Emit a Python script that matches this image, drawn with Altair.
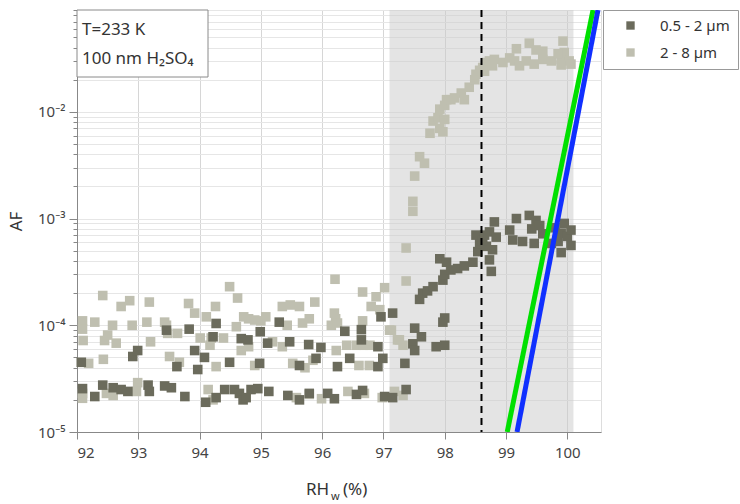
import altair as alt
import pandas as pd

# ---------------- data ----------------
series_names = ["0.5 - 2 µm", "2 - 8 µm"]

dark_rh = [92.09, 92.29, 92.42, 92.59, 92.72, 92.83, 93.16, 93.18, 93.43, 93.54, 93.76, 94.10, 94.27, 94.41,
           94.57, 94.65, 94.71, 94.76, 94.84, 94.95, 95.13, 95.44, 95.63, 95.79, 96.09, 96.20, 96.56, 96.66,
           97.02, 97.15,
           92.07, 92.91, 92.99, 93.46, 93.63, 93.83, 93.92, 93.97, 94.08, 94.22, 94.27, 94.49, 94.68, 94.79,
           94.98, 94.99, 95.11, 95.30, 95.47, 95.63, 95.78, 95.90, 95.98, 96.25, 96.37, 96.45, 96.64, 96.64,
           96.91, 96.91, 96.99, 96.96, 97.15,
           97.35, 97.37, 97.48, 97.51, 97.51, 97.62, 97.86, 98.00, 97.97, 98.00, 97.59, 97.64, 97.72, 97.81,
           97.97, 98.00, 97.92, 98.03, 98.10, 98.21, 98.32, 98.46, 98.76, 98.73, 98.54, 98.57, 98.68, 98.78,
           98.51, 98.73, 98.84, 98.81, 98.62, 98.65, 99.06, 99.11, 99.17, 99.27, 99.38, 99.42, 99.46, 99.49,
           99.55, 99.60, 99.74, 99.80, 99.85, 99.90, 99.90, 99.95, 100.00, 100.06, 100.06]
dark_af = [2.55e-5, 2.15e-5, 2.75e-5, 2.6e-5, 2.5e-5, 2.4e-5, 2.75e-5, 2.4e-5, 2.7e-5, 2.6e-5, 2.15e-5, 1.9e-5,
           2.1e-5, 2.5e-5, 2.5e-5, 2.3e-5, 2.0e-5, 2.1e-5, 2.5e-5, 2.55e-5, 2.4e-5, 2.2e-5, 2.0e-5, 2.3e-5,
           2.3e-5, 2.05e-5, 2.25e-5, 2.45e-5, 2.15e-5, 2.1e-5,
           4.5e-5, 5.1e-5, 5.8e-5, 9.0e-5, 4.1e-5, 9.2e-5, 5.8e-5, 3.85e-5, 5.0e-5, 7.8e-5, 1.04e-4, 4.5e-5,
           7.5e-5, 7.3e-5, 4.4e-5, 8.7e-5, 6.8e-5, 1.07e-4, 7.0e-5, 4.2e-5, 6.6e-5, 4.9e-5, 6.2e-5, 4.1e-5,
           8.8e-5, 4.9e-5, 9.1e-5, 7.3e-5, 6.3e-5, 4.1e-5, 4.9e-5, 1.2e-4, 1.3e-4,
           4.4e-5, 2.5e-5, 6.7e-5, 5.8e-5, 9.4e-5, 7.8e-5, 6.3e-5, 6.5e-5, 1.07e-4, 1.17e-4, 1.75e-4, 2.0e-4,
           2.1e-4, 2.3e-4, 2.65e-4, 3.0e-4, 4.2e-4, 3.9e-4, 3.3e-4, 3.4e-4, 3.6e-4, 3.9e-4, 3.2e-4, 4.1e-4,
           4.9e-4, 5.85e-4, 5.5e-4, 5.1e-4, 7.0e-4, 7.5e-4, 6.7e-4, 9.3e-4, 6.2e-4, 7.0e-4, 7.8e-4, 6.3e-4,
           1.0e-3, 6.1e-4, 1.07e-3, 8.0e-4, 5.85e-4, 9.6e-4, 8.6e-4, 7.2e-4, 5.85e-4, 8.2e-4, 6.1e-4, 7.3e-4,
           4.8e-4, 9.0e-4, 6.8e-4, 7.8e-4, 5.6e-4]

light_rh = [92.09, 92.09, 92.48, 92.59, 92.99, 92.97, 94.14, 94.22, 95.58, 95.79, 95.99, 96.42, 96.69, 96.98,
            97.18, 97.32,
            92.42, 92.72, 92.86, 93.18, 93.82, 93.92, 94.26, 94.49, 94.62, 94.11, 92.09, 92.29, 92.58, 92.90,
            93.14, 93.43, 93.46, 92.09, 92.10, 92.45, 92.64, 92.50, 93.20, 93.48, 93.64, 93.51, 93.67, 92.19,
            92.43, 94.01, 94.19, 94.39, 94.17, 94.27, 94.60, 94.72, 94.80, 94.90, 95.00, 95.08, 94.68, 94.80,
            94.90, 95.19, 95.35, 95.35, 95.48, 95.63, 95.43, 95.68, 95.79, 95.88, 95.52, 95.72, 95.85, 96.21,
            96.20, 96.22, 96.15, 96.25, 96.23, 96.40, 96.66, 96.66, 96.88, 97.02, 96.80, 96.94, 96.56, 96.67,
            96.78, 96.60, 96.77, 97.10, 97.23,
            97.13, 97.26, 97.32, 97.37, 97.37, 97.48, 97.48, 97.51, 97.59, 97.67, 97.76, 97.81, 97.89, 97.92,
            97.97, 98.00, 97.92, 98.03, 98.00, 98.10, 98.16, 98.27, 98.32, 98.40, 98.49, 98.51, 98.57, 98.62,
            98.68, 98.73, 98.81, 98.65, 98.78, 98.95, 99.06, 99.14, 99.22, 99.17, 99.38, 99.49, 99.60, 99.33,
            99.46, 99.60, 99.74, 99.93, 99.95, 99.90, 100.03, 99.90, 100.06, 99.85]
light_af = [2.3e-5, 2.07e-5, 2.3e-5, 2.2e-5, 2.9e-5, 2.4e-5, 2.5e-5, 2.0e-5, 2.1e-5, 2.25e-5, 2.05e-5, 2.4e-5,
            2.3e-5, 2.1e-5, 2.4e-5, 2.2e-5,
            1.9e-4, 1.5e-4, 1.7e-4, 1.65e-4, 1.6e-4, 1.3e-4, 1.5e-4, 2.3e-4, 1.8e-4, 1.2e-4, 1.1e-4, 1.07e-4,
            1.0e-4, 1.0e-4, 1.07e-4, 1.07e-4, 1.0e-4, 9.2e-5, 7.2e-5, 7.2e-5, 6.8e-5, 8.1e-5, 7.0e-5, 8.4e-5,
            8.4e-5, 5.1e-5, 4.5e-5, 4.4e-5, 4.8e-5, 7.6e-5, 7.6e-5, 7.6e-5, 6.5e-5, 4.1e-5, 9.7e-5, 1.2e-4,
            1.15e-4, 1.12e-4, 1.1e-4, 1.2e-4, 5.8e-5, 6.3e-5, 4.2e-5, 7.0e-5, 6.3e-5, 1.5e-4, 1.55e-4, 1.5e-4,
            1.0e-4, 1.05e-4, 1.15e-4, 1.65e-4, 4.4e-5, 4.0e-5, 4.7e-5, 2.7e-4, 1.3e-4, 1.15e-4, 1.0e-4,
            1.05e-4, 5.8e-5, 6.5e-5, 2.05e-4, 1.1e-4, 1.85e-4, 2.25e-4, 1.5e-4, 1.4e-4, 6.5e-5, 6.5e-5, 6.5e-5,
            4.2e-5, 4.2e-5, 9.0e-5, 7.3e-5,
            9.0e-5, 7.3e-5, 6.5e-5, 2.6e-4, 5.3e-4, 1.17e-3, 1.45e-3, 2.5e-3, 3.8e-3, 3.3e-3, 6.3e-3, 8.2e-3,
            8.8e-3, 7.0e-3, 6.5e-3, 8.5e-3, 1.06e-2, 1.3e-2, 1.15e-2, 1.3e-2, 1.35e-2, 1.5e-2, 1.3e-2, 1.7e-2,
            2.0e-2, 2.25e-2, 2.45e-2, 2.6e-2, 2.9e-2, 3.0e-2, 3.1e-2, 2.4e-2, 2.7e-2, 2.9e-2, 3.2e-2, 3.0e-2,
            2.7e-2, 3.9e-2, 4.4e-2, 3.8e-2, 3.7e-2, 3.0e-2, 2.8e-2, 3.1e-2, 3.0e-2, 4.6e-2, 3.6e-2, 3.1e-2,
            3.0e-2, 2.75e-2, 2.8e-2, 3.5e-2]

shade_rh = [97.1, 100.1]          # grey shaded RH range
dashed_rh = [98.6]                # vertical dashed line
green_rh = [99.02, 100.42]
green_af = [1e-5, 0.09]
blue_rh = [99.18, 100.50]
blue_af = [1e-5, 0.09]

x_ticks = [92 + 0.5 * i for i in range(18)]
y_ticks = [m * 10.0 ** k for k in (-5, -4, -3, -2) for m in range(1, 10)]

# ---------------- chart ----------------
W, H = 524, 422
FONT = "Noto Sans"
DARK, LIGHT = "#6b6b5c", "#bfbfb0"

x_scale = alt.Scale(domain=[92, 100.55], nice=False, zero=False)
y_scale = alt.Scale(type="log", domain=[1e-5, 0.09], nice=False)

x_axis = alt.Axis(
    title=None, values=x_ticks,
    labelExpr="datum.value % 1 === 0 ? format(datum.value, 'd') : ''",
    tickSize={"condition": {"test": "datum.value % 1 !== 0", "value": 4}, "value": 7},
    gridOpacity={"condition": {"test": "datum.value % 1 !== 0", "value": 0}, "value": 1},
    gridColor="#d6d6d6", labelFontSize=15, labelPadding=6, labelColor="#444", labelFont=FONT,
)
major_test = "abs(log(datum.value)/LN10 - round(log(datum.value)/LN10)) < 0.001"
exp_expr = "round(log(datum.value)/LN10)"
y_axis = alt.Axis(
    title="AF", values=y_ticks,
    labelExpr=(f"{major_test} ? '10' + ({exp_expr} == -5 ? '⁻⁵' : {exp_expr} == -4 ? '⁻⁴' : "
               f"{exp_expr} == -3 ? '⁻³' : '⁻²') : ''"),
    tickSize={"condition": {"test": major_test, "value": 8}, "value": 4},
    gridColor="#e6e6e6", labelFontSize=15, labelPadding=4, labelColor="#444", labelFont=FONT,
    titleFontSize=17, titleFontWeight="normal", titleColor="#333", titleFont=FONT, titlePadding=12,
)

pts = pd.DataFrame({
    "rh": light_rh + dark_rh,
    "af": light_af + dark_af,
    "size": [series_names[1]] * len(light_rh) + [series_names[0]] * len(dark_rh),
})

shade = alt.Chart(pd.DataFrame({"rh": [shade_rh[0]], "rh2": [shade_rh[1]]})).mark_rect(
    color="#c9c9c9", opacity=0.5
).encode(
    x=alt.X("rh:Q", scale=x_scale, axis=x_axis), x2="rh2:Q",
    y=alt.value(0), y2=alt.value(H),
)

scatter = alt.Chart(pts).mark_square(size=92, opacity=1).encode(
    x=alt.X("rh:Q", scale=x_scale, axis=x_axis),
    y=alt.Y("af:Q", scale=y_scale, axis=y_axis),
    color=alt.Color(
        "size:N",
        scale=alt.Scale(domain=series_names, range=[DARK, LIGHT]),
        legend=alt.Legend(
            title=None, orient="none", legendX=526, legendY=0, symbolType="square",
            symbolSize=70, symbolStrokeWidth=0, labelFontSize=15, labelFont=FONT, labelColor="#333",
            strokeColor="#999", fillColor="white", padding=8, rowPadding=11, symbolOffset=12,
            labelOffset=22,
        ),
    ),
    order=alt.value(0),
)

dashed = alt.Chart(pd.DataFrame({"rh": dashed_rh})).mark_rule(
    color="black", strokeWidth=2, strokeDash=[7, 5]
).encode(x=alt.X("rh:Q", scale=x_scale), y=alt.value(0), y2=alt.value(H))

green = alt.Chart(pd.DataFrame({"rh": green_rh, "af": green_af})).mark_line(
    color="#00e000", strokeWidth=5, clip=True
).encode(x=alt.X("rh:Q", scale=x_scale), y=alt.Y("af:Q", scale=y_scale))

blue = alt.Chart(pd.DataFrame({"rh": blue_rh, "af": blue_af})).mark_line(
    color="#1030ff", strokeWidth=5, clip=True
).encode(x=alt.X("rh:Q", scale=x_scale), y=alt.Y("af:Q", scale=y_scale))

box = alt.Chart(pd.DataFrame({"a": [0]})).mark_rect(
    fill="white", stroke="#8a8a8a", strokeWidth=1
).encode(x=alt.value(0), x2=alt.value(131), y=alt.value(0), y2=alt.value(67))

ann1 = alt.Chart(pd.DataFrame({"t": ["T=233 K"]})).mark_text(
    align="left", baseline="alphabetic", fontSize=17, font=FONT, color="#333"
).encode(text="t:N", x=alt.value(5), y=alt.value(25))
ann2 = alt.Chart(pd.DataFrame({"t": ["100 nm H₂SO₄"]})).mark_text(
    align="left", baseline="alphabetic", fontSize=17, font=FONT, color="#333"
).encode(text="t:N", x=alt.value(5), y=alt.value(54))

xt1 = alt.Chart(pd.DataFrame({"t": ["RH"]})).mark_text(
    align="left", baseline="alphabetic", fontSize=17, font=FONT, color="#333"
).encode(text="t:N", x=alt.value(229), y=alt.value(485))
xt2 = alt.Chart(pd.DataFrame({"t": ["w"]})).mark_text(
    align="left", baseline="alphabetic", fontSize=11, font=FONT, color="#333"
).encode(text="t:N", x=alt.value(254), y=alt.value(490))
xt3 = alt.Chart(pd.DataFrame({"t": ["(%)"]})).mark_text(
    align="left", baseline="alphabetic", fontSize=17, font=FONT, color="#333"
).encode(text="t:N", x=alt.value(266), y=alt.value(485))

chart = alt.layer(shade, scatter, dashed, green, blue, box, ann1, ann2, xt1, xt2, xt3).properties(
    width=W, height=H,
    autosize=alt.AutoSizeParams(type="none"),
    padding={"left": 77, "top": 10, "right": 139, "bottom": 72},
).configure_view(stroke=None).configure_axis(
    domainColor="black", domainWidth=2, tickColor="black", tickWidth=1.5,
).configure(background="white")

chart.save("out.html", embed_options={"renderer": "svg", "actions": False})
